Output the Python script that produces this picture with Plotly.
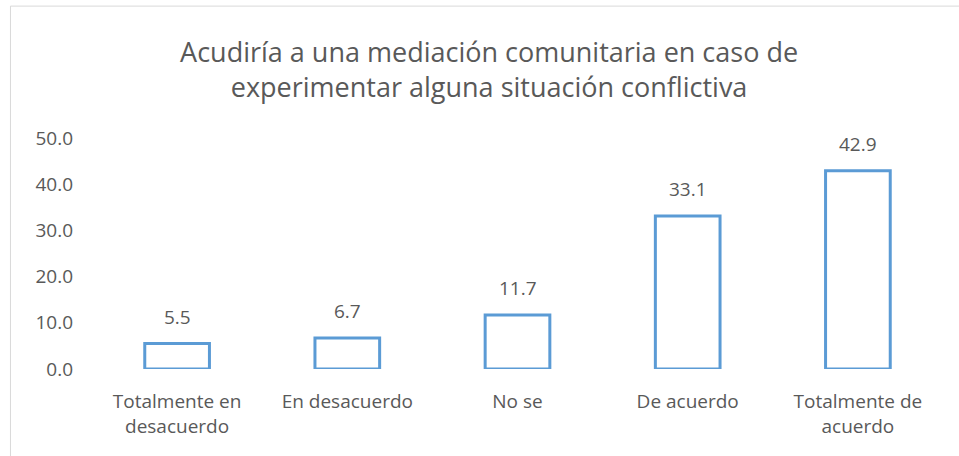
import plotly.graph_objects as go

categories = ["Totalmente en<br>desacuerdo", "En desacuerdo", "No se", "De acuerdo", "Totalmente de<br>acuerdo"]
values = [5.5, 6.7, 11.7, 33.1, 42.9]
y_ticks = [0, 10, 20, 30, 40, 50]
y_tick_labels = ["0.0", "10.0", "20.0", "30.0", "40.0", "50.0"]
title_text = "Acudiría a una mediación comunitaria en caso de<br>experimentar alguna situación conflictiva"

FONT = "Open Sans"
TXT = "#595959"
BLUE = "#5B9BD5"
BORDER = "#D9D9D9"

fig = go.Figure()
fig.add_trace(go.Bar(
    x=categories, y=values,
    marker=dict(color="rgba(255,255,255,0)", line=dict(color=BLUE, width=3)),
    hoverinfo="skip",
))

for c, v in zip(categories, values):
    fig.add_annotation(x=c, y=v, xref="x", yref="y", text=f"{v:.1f}",
                       showarrow=False, yanchor="bottom", yshift=12,
                       font=dict(family=FONT, size=19, color=TXT))

# chart-area border (top and left edges visible; the rest is cropped)
fig.add_shape(type="line", xref="paper", yref="paper",
              x0=-0.0958, x1=1.0188, y0=1.571, y1=1.571,
              line=dict(color=BORDER, width=1), layer="below")
fig.add_shape(type="line", xref="paper", yref="paper",
              x0=-0.0958, x1=-0.0958, y0=-0.38, y1=1.571,
              line=dict(color=BORDER, width=1), layer="below")

fig.update_layout(
    width=959, height=456,
    margin=dict(l=92, r=16, t=138, b=87),
    paper_bgcolor="white", plot_bgcolor="white",
    showlegend=False,
    bargap=0.62,
    title=dict(text=title_text, x=0.51, xanchor="center", y=1 - 62 / 456,
               yanchor="middle", xref="container", yref="container",
               font=dict(family=FONT, size=27, color=TXT)),
    xaxis=dict(showline=False, showgrid=False, zeroline=False, ticks="",
               ticklabelstandoff=19,
               tickfont=dict(family=FONT, size=19, color=TXT)),
    yaxis=dict(range=[0, 50], tickvals=y_ticks, ticktext=y_tick_labels,
               showline=False, showgrid=False, zeroline=False, ticks="",
               ticklabelstandoff=18,
               tickfont=dict(family=FONT, size=19, color=TXT)),
)

fig.write_html("out.html", config={"displayModeBar": False},
               post_script="document.body.style.margin='0';"
                           "document.body.style.overflow='hidden';"
                           "document.documentElement.style.overflow='hidden';")
